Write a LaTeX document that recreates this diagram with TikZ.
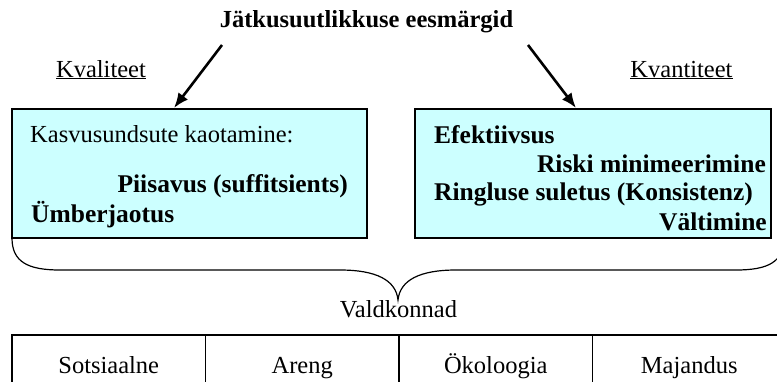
\documentclass[tikz,border=0pt]{standalone}
\usepackage{fontspec}
\setmainfont{Liberation Serif}
\usetikzlibrary{positioning,arrows.meta}
\definecolor{boxcyan}{HTML}{CCFFFF}
\tikzset{
  txt/.style={font=\fontsize{24.5}{29}\selectfont, inner sep=0pt},
  boldtxt/.style={font=\fontsize{25.5}{29}\selectfont\bfseries, inner sep=0pt},
  goalbox/.style={draw, fill=boxcyan, line width=1.2pt, inner sep=0pt, outer sep=0pt,
    minimum width=#1, minimum height=129pt},
  cell/.style={draw, line width=1.2pt, txt, outer sep=0pt, minimum width=193.5pt,
    minimum height=61pt, text height=16pt, text depth=0pt},
  goal/.style={-{Latex[length=15pt,width=12pt]}, line width=2.6pt}
}
\begin{document}
\begin{tikzpicture}[x=1pt,y=-1pt]
  \useasboundingbox (0,0) rectangle (777,381);
  % title and the two sides
  \node[txt, font=\fontsize{24.5}{29}\selectfont\bfseries, anchor=base] (title) at (366.5,27) {Jätkusuutlikkuse eesmärgid};
  \node[txt, anchor=base] (kval) at (101,77) {\underline{Kvaliteet}};
  \node[txt, anchor=base] (kvant) at (681.5,77) {\underline{Kvantiteet}};
  \node[goalbox=355pt] (qualbox) at (189.5,173.5) {};
  \node[goalbox=356pt] (quantbox) at (593,173.5) {};
  \coordinate (lfoot) at (222,45);
  \coordinate (ltip) at (174,108);
  \coordinate (rfoot) at (528,45);
  \coordinate (rtip) at (576,108);
  \draw[goal] (lfoot) -- (ltip);
  \draw[goal] (rfoot) -- (rtip);
  % texts in the boxes
  \node[txt, anchor=base west] (kasv) at (30,142) {Kasvusundsute kaotamine:};
  \node[boldtxt, anchor=base east] (piis) at (348,192) {Piisavus (suffitsients)};
  \node[boldtxt, anchor=base west] (umber) at (31,222) {Ümberjaotus};
  \node[boldtxt, anchor=base west] (efek) at (434,143) {Efektiivsus};
  \node[boldtxt, anchor=base east] (risk) at (766,172) {Riski minimeerimine};
  \node[boldtxt, anchor=base west] (ring) at (434,200) {Ringluse suletus (Konsistenz)};
  \node[boldtxt, anchor=base east] (valt) at (767,230) {Vältimine};
  % brace
  \coordinate (braceend) at (784,238);
  \draw[line width=1.2pt] (qualbox.south west) .. controls (12,262) and (28,270) .. (60,270)
    -- (340,270) .. controls (376,270) and (396,280) .. (398,300)
    .. controls (400,280) and (420,270) .. (456,270)
    -- (736,270) .. controls (768,270) and (784,262) .. (braceend);
  \node[txt, anchor=base] (vald) at (398.5,317) {Valdkonnad};
  % table
  \node[cell] (sots) at (108.75,365.5) {Sotsiaalne};
  \node[cell, right=0pt of sots] (areng) {Areng};
  \node[cell, right=0pt of areng] (oko) {Ökoloogia};
  \node[cell, right=0pt of oko] (maj) {Majandus};
\end{tikzpicture}
\end{document}
